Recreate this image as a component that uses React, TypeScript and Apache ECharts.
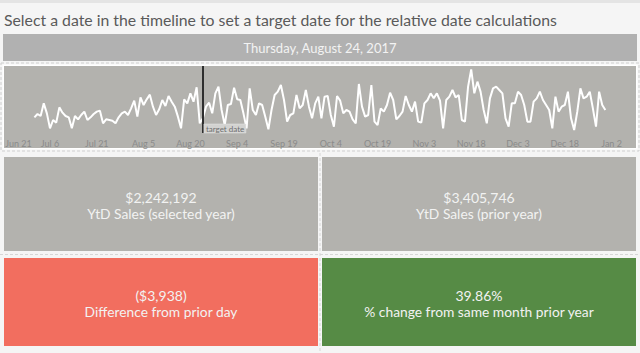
import React, { useEffect, useRef } from "react";
import * as echarts from "echarts";

const TITLE = "Select a date in the timeline to set a target date for the relative date calculations";
const HEADER_DATE = "Thursday, August 24, 2017";
const AXIS_START = "2017-06-21";
const AXIS_DAYS = 196; // Jun 21, 2017 .. Jan 2, 2018
const TICK_LABELS = ["Jun 21", "Jul 6", "Jul 21", "Aug 5", "Aug 20", "Sep 4", "Sep 19", "Oct 4", "Oct 19", "Nov 3", "Nov 18", "Dec 3", "Dec 18", "Jan 2"];
const DATA_START = "2017-07-01";
const TARGET_DATE = "2017-08-24";
const TARGET_LABEL = "target date";

// daily sales Jul 1 .. Dec 31, 2017
const DAILY_SALES = [
  2350, 2850, 2550, 4450, 2950, 700, 1950, 1550, 3850, 3050,
  2550, 2350, 700, 2550, 2050, 2700, 3200, 1950, 2350, 2850,
  3200, 3350, 1450, 2050, 1950, 1850, 1450, 2350, 2950, 3200,
  2700, 3700, 4850, 2450, 5350, 4200, 5050, 5750, 3950, 2700,
  3550, 4950, 4050, 5550, 4700, 3950, 2450, 700, 5050, 4450,
  5950, 4700, 6850, 1450, 2200, 3950, 4550, 2950, 5950, 6950,
  3450, 1200, 4200, 4350, 6800, 5050, 4950, 2950, 700, 6700,
  3450, 2700, 4450, 4200, 2450, 550, 3450, 5700, 6200, 7200,
  4950, 1700, 2700, 2950, 5700, 3700, 4200, 6450, 3950, 2200,
  4450, 5450,
  2200, 5450, 5550, 2700, 950, 5550, 4850, 2950, 3450, 3200,
  2050, 1450, 7350, 3950, 2450, 2700, 7200, 1700, 1200, 3700,
  3200, 4200, 6050, 4950, 2050, 2550, 3200, 5550, 4200, 3200,
  4700, 1700, 1550, 4450, 4950, 5950, 5200, 5950, 4850, 700,
  4950, 5450, 6450, 5350, 5700, 1950, 1700, 6950, 9550, 5950,
  7700, 6200, 3450, 1450, 5200, 6700, 6950, 6450, 5950, 2200,
  950, 4450, 4450, 6200, 5700, 4200, 1700, 1700, 4700, 5200,
  6200, 4950, 4200, 3450, 700, 5450, 3200, 3950, 4200, 6200,
  2200, 450, 3200, 6700, 5200, 5450, 6200, 3700, 950, 6200,
  4200, 3450,
];

const KPI_VALUES = ["$2,242,192", "$3,405,746", "($3,938)", "39.86%"];
const KPI_LABELS = ["YtD Sales (selected year)", "YtD Sales (prior year)", "Difference from prior day", "% change from same month prior year"];
const KPI_COLORS = ["#b3b2ae", "#b3b2ae", "#f26e5f", "#568b45"];

const FONT = "Lato, 'Open Sans', sans-serif";

function isoDay(start: string, add: number): string {
  const d = new Date(start + "T00:00:00Z");
  d.setUTCDate(d.getUTCDate() + add);
  return d.toISOString().slice(0, 10);
}

export default function App() {
  const ref = useRef<HTMLDivElement>(null);

  useEffect(() => {
    if (!ref.current) return;
    const chart = echarts.init(ref.current, undefined, { renderer: "svg" });

    const categories: string[] = [];
    for (let i = 0; i < AXIS_DAYS; i++) categories.push(isoDay(AXIS_START, i));
    const startIdx = categories.indexOf(DATA_START);
    const seriesData: (number | null)[] = categories.map((_, i) => {
      const k = i - startIdx;
      return k >= 0 && k < DAILY_SALES.length ? DAILY_SALES[k] : null;
    });
    const axisData: any[] = categories.map((c, i) =>
      i === 0 ? { value: c, textStyle: { align: "left", padding: [0, 0, 0, 2] } } : c
    );

    chart.setOption({
      animation: false,
      backgroundColor: "#f5f5f5",
      grid: { left: 3.2, right: 28.4, top: 66, bottom: 220, outerBoundsMode: "none", containLabel: false },
      xAxis: {
        type: "category",
        data: axisData,
        boundaryGap: false,
        axisLine: { show: false },
        axisTick: { show: false },
        splitLine: { show: false },
        axisLabel: {
          interval: (index: number) => index % 15 === 0,
          formatter: (_v: string, index: number) => TICK_LABELS[Math.round(index / 15)] ?? "",
          color: "#8a8a8a",
          fontSize: 9,
          fontFamily: FONT,
          margin: 6,
        },
      },
      yAxis: { type: "value", min: 0, max: 10050, show: false, splitLine: { show: false } },
      series: [
        {
          type: "line",
          data: seriesData,
          symbol: "none",
          connectNulls: false,
          lineStyle: { color: "#ffffff", width: 2 },
          z: 3,
          markLine: {
            symbol: "none",
            silent: true,
            label: { show: false },
            lineStyle: { color: "#2e2e2e", width: 2, type: "solid" },
            data: [{ xAxis: TARGET_DATE }],
          },
        },
      ],
    });

    const px = chart.convertToPixel({ xAxisIndex: 0 }, TARGET_DATE) as number;

    const boxes = [
      { x: 4, y: 157, w: 314, h: 94 },
      { x: 322, y: 157, w: 314, h: 94 },
      { x: 4, y: 258, w: 314, h: 88 },
      { x: 322, y: 258, w: 314, h: 88 },
    ];

    const graphics: any[] = [
      { id: "topstrip", type: "rect", z: 0, shape: { x: 0, y: 0, width: 640, height: 3 }, style: { fill: "#e4e4e4" } },
      {
        id: "title", type: "text", z: 1, x: 4, y: 19,
        style: { text: TITLE, fill: "#5a5a5a", font: `15.8px ${FONT}`, verticalAlign: "middle", align: "left" },
      },
      { id: "hdrRect", type: "rect", z: 0, shape: { x: 3, y: 34, width: 634, height: 27 }, style: { fill: "#b1b1b1" } },
      {
        id: "hdrText", type: "text", z: 1, x: 320, y: 48,
        style: { text: HEADER_DATE, fill: "#f3f3f3", font: `13px ${FONT}`, align: "center", verticalAlign: "middle" },
      },
      { id: "tlDash", type: "rect", z: 0, shape: { x: 1, y: 63, width: 638, height: 88 }, style: { fill: "none", stroke: "#cfcfcf", lineWidth: 1, lineDash: [3, 2] } },
      { id: "tlWhite", type: "rect", z: 0, shape: { x: 2.5, y: 64.5, width: 635, height: 85 }, style: { fill: "#ffffff" } },
      { id: "tlGray", type: "rect", z: 0, shape: { x: 4, y: 66, width: 632, height: 82 }, style: { fill: "#b3b2ae" } },
      { id: "vSep", type: "line", z: 0, shape: { x1: 320, y1: 153, x2: 320, y2: 353 }, style: { stroke: "#d6d6d6", lineDash: [3, 2], lineWidth: 1 } },
      { id: "hSep", type: "line", z: 0, shape: { x1: 0, y1: 254.5, x2: 640, y2: 254.5 }, style: { stroke: "#d6d6d6", lineDash: [3, 2], lineWidth: 1 } },
    ];
    boxes.forEach((b, i) => {
      graphics.push({ id: "box" + i, type: "rect", z: 0, shape: { x: b.x, y: b.y, width: b.w, height: b.h }, style: { fill: KPI_COLORS[i] } });
      const cx = b.x + b.w / 2;
      const cy = b.y + b.h / 2;
      graphics.push({
        id: "val" + i, type: "text", z: 1, x: cx, y: cy - 6.5,
        style: { text: KPI_VALUES[i], fill: "#f2f2f2", font: `14px ${FONT}`, align: "center", verticalAlign: "middle" },
      });
      graphics.push({
        id: "lab" + i, type: "text", z: 1, x: cx, y: cy + 9.5,
        style: { text: KPI_LABELS[i], fill: "#f2f2f2", font: `13.8px ${FONT}`, align: "center", verticalAlign: "middle" },
      });
    });
    graphics.push({
      id: "tgtRect", type: "rect", z: 10,
      shape: { x: px + 1, y: 124, width: 42, height: 9 },
      style: { fill: "#d2d2d0", stroke: "#e6e6e6", lineWidth: 0.5 },
    });
    graphics.push({
      id: "tgtText", type: "text", z: 11, x: px + 3, y: 128.8,
      style: { text: TARGET_LABEL, fill: "#6e6e6e", font: `8px ${FONT}`, verticalAlign: "middle" },
    });

    chart.setOption({ graphic: { elements: graphics } });

    return () => chart.dispose();
  }, []);

  return <div ref={ref} style={{ position: "fixed", left: 0, top: 0, width: 640, height: 353 }} />;
}
